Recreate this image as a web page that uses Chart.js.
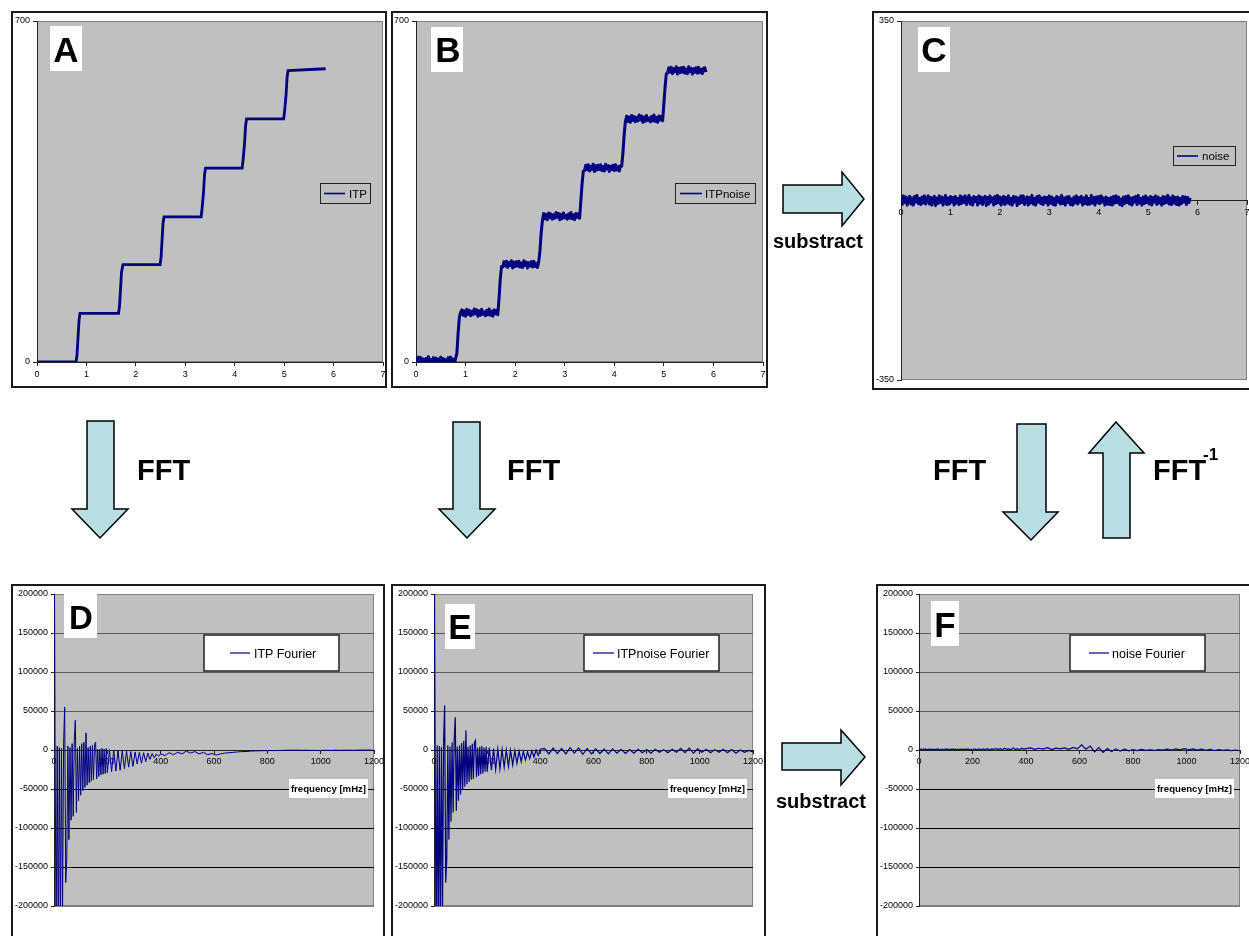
<!DOCTYPE html>
<html><head><meta charset="utf-8">
<script src="https://cdn.jsdelivr.net/npm/chart.js@4"></script>
<style>
html,body{margin:0;padding:0;background:#fff;width:1249px;height:936px;overflow:hidden;position:relative}
canvas{position:absolute}
svg{position:absolute;left:0;top:0;pointer-events:none}
</style></head><body>
<canvas id="cA" width="374" height="375" style="left:12px;top:12px"></canvas>
<canvas id="cB" width="375" height="375" style="left:392px;top:12px"></canvas>
<canvas id="cC" width="376" height="377" style="left:873px;top:12px"></canvas>
<canvas id="cD" width="372" height="351" style="left:12px;top:585px"></canvas>
<canvas id="cE" width="373" height="351" style="left:392px;top:585px"></canvas>
<canvas id="cF" width="372" height="351" style="left:877px;top:585px"></canvas>

<svg width="1249" height="936" viewBox="0 0 1249 936" font-family="Liberation Sans, Arial, sans-serif">
 <g fill="none" stroke="#1a1a1a" stroke-width="2">
  <rect x="12" y="12" width="374" height="375"/>
  <rect x="392" y="12" width="375" height="375"/>
  <rect x="873" y="12" width="380" height="377"/>
  <rect x="12" y="585" width="372" height="360"/>
  <rect x="392" y="585" width="373" height="360"/>
  <rect x="877" y="585" width="380" height="360"/>
 </g>
 <g fill="#fff">
  <rect x="50" y="26" width="32" height="45"/>
  <rect x="431" y="27" width="32" height="45"/>
  <rect x="918" y="27" width="32" height="45"/>
  <rect x="64" y="594" width="33" height="44"/>
  <rect x="445" y="604" width="30" height="45"/>
  <rect x="931" y="601" width="28" height="45"/>
 </g>
 <g font-weight="bold" font-size="35" text-anchor="middle" fill="#000">
  <text x="66" y="62">A</text>
  <text x="448" y="62">B</text>
  <text x="934" y="62">C</text>
  <text x="81" y="629" font-size="33">D</text>
  <text x="460" y="639">E</text>
  <text x="945" y="637">F</text>
 </g>
 <g fill="#C0C0C0" stroke="#222" stroke-width="1">
  <rect x="320.5" y="183.5" width="50" height="20"/>
  <rect x="675.5" y="183.5" width="80" height="20"/>
  <rect x="1173.5" y="146.5" width="62" height="19"/>
 </g>
 <g stroke="#000080" stroke-width="1.6">
  <line x1="324" y1="193.5" x2="345" y2="193.5"/>
  <line x1="680" y1="193.5" x2="702" y2="193.5"/>
  <line x1="1177" y1="156" x2="1198" y2="156"/>
 </g>
 <g font-size="11.5" fill="#000">
  <text x="349" y="197.5">ITP</text>
  <text x="705" y="197.5">ITPnoise</text>
  <text x="1202" y="160">noise</text>
 </g>
 <g fill="#fff" stroke="#222" stroke-width="1.5">
  <rect x="204" y="635" width="135" height="36"/>
  <rect x="584" y="635" width="135" height="36"/>
  <rect x="1070" y="635" width="135" height="36"/>
 </g>
 <g stroke="#000080" stroke-width="1.2">
  <line x1="230" y1="653" x2="250" y2="653"/>
  <line x1="593" y1="653" x2="614" y2="653"/>
  <line x1="1089" y1="653" x2="1109" y2="653"/>
 </g>
 <g font-size="12.5" fill="#000">
  <text x="254" y="657.5">ITP Fourier</text>
  <text x="617" y="657.5">ITPnoise Fourier</text>
  <text x="1112" y="657.5">noise Fourier</text>
 </g>
 <g fill="#fff">
  <rect x="289" y="779" width="79" height="19"/>
  <rect x="668" y="779" width="79" height="19"/>
  <rect x="1155" y="779" width="79" height="19"/>
 </g>
 <g font-size="9.6" font-weight="bold" text-anchor="middle" fill="#000">
  <text x="328.5" y="792">frequency [mHz]</text>
  <text x="707.5" y="792">frequency [mHz]</text>
  <text x="1194.5" y="792">frequency [mHz]</text>
 </g>
 <g fill="#B7DEE0" stroke="#000" stroke-width="1.5" stroke-linejoin="miter">
  <polygon points="87,421 114,421 114,509 128,509 100,538 72,509 87,509"/>
  <polygon points="453,422 480,422 480,509 495,509 467,538 439,509 453,509"/>
  <polygon points="1017,424 1046,424 1046,512 1058,512 1031,540 1003,512 1017,512"/>
  <polygon points="1116,422 1144,453 1130,453 1130,538 1103,538 1103,453 1089,453"/>
  <polygon points="783,185 842,185 842,172 864,199 842,226 842,213 783,213"/>
  <polygon points="782,743 841,743 841,730 865,757 841,785 841,770 782,770"/>
 </g>
 <g font-weight="bold" fill="#000">
  <text x="137" y="480" font-size="29">FFT</text>
  <text x="507" y="480" font-size="29">FFT</text>
  <text x="933" y="480" font-size="29">FFT</text>
  <text x="1153" y="480" font-size="29">FFT</text>
  <text x="1203" y="460" font-size="17">-1</text>
  <text x="773" y="248" font-size="20">substract</text>
  <text x="776" y="808" font-size="20">substract</text>
 </g>
</svg>

<script>
// ---------- Data ----------
// Panel A: ITP staircase (time in s, value)
const itpTime  = [0, 0.79, 0.81, 0.83, 0.85, 0.87, 1.65, 1.67, 1.69, 1.71, 1.74, 2.49, 2.51, 2.53, 2.55, 2.57, 3.32, 3.34, 3.37, 3.39, 3.41, 4.15, 4.17, 4.20, 4.22, 4.24, 4.99, 5.01, 5.04, 5.06, 5.08, 5.84];
const itpValue = [0, 0, 15, 50, 85, 100, 100, 115, 150, 185, 200, 200, 215, 250, 285, 298, 298, 315, 350, 385, 398, 398, 415, 450, 485, 499, 499, 515, 550, 585, 598, 602];

// Panels B and C: sample times (s)
const sampleTime = [
0,0.025,0.05,0.075,0.1,0.125,0.15,0.175,0.2,0.225,
0.25,0.275,0.3,0.325,0.35,0.375,0.4,0.425,0.45,0.475,
0.5,0.525,0.55,0.575,0.6,0.625,0.65,0.675,0.7,0.725,
0.75,0.775,0.8,0.825,0.85,0.875,0.9,0.925,0.95,0.975,
1,1.025,1.05,1.075,1.1,1.125,1.15,1.175,1.2,1.225,
1.25,1.275,1.3,1.325,1.35,1.375,1.4,1.425,1.45,1.475,
1.5,1.525,1.55,1.575,1.6,1.625,1.65,1.675,1.7,1.725,
1.75,1.775,1.8,1.825,1.85,1.875,1.9,1.925,1.95,1.975,
2,2.025,2.05,2.075,2.1,2.125,2.15,2.175,2.2,2.225,
2.25,2.275,2.3,2.325,2.35,2.375,2.4,2.425,2.45,2.475,
2.5,2.525,2.55,2.575,2.6,2.625,2.65,2.675,2.7,2.725,
2.75,2.775,2.8,2.825,2.85,2.875,2.9,2.925,2.95,2.975,
3,3.025,3.05,3.075,3.1,3.125,3.15,3.175,3.2,3.225,
3.25,3.275,3.3,3.325,3.35,3.375,3.4,3.425,3.45,3.475,
3.5,3.525,3.55,3.575,3.6,3.625,3.65,3.675,3.7,3.725,
3.75,3.775,3.8,3.825,3.85,3.875,3.9,3.925,3.95,3.975,
4,4.025,4.05,4.075,4.1,4.125,4.15,4.175,4.2,4.225,
4.25,4.275,4.3,4.325,4.35,4.375,4.4,4.425,4.45,4.475,
4.5,4.525,4.55,4.575,4.6,4.625,4.65,4.675,4.7,4.725,
4.75,4.775,4.8,4.825,4.85,4.875,4.9,4.925,4.95,4.975,
5,5.025,5.05,5.075,5.1,5.125,5.15,5.175,5.2,5.225,
5.25,5.275,5.3,5.325,5.35,5.375,5.4,5.425,5.45,5.475,
5.5,5.525,5.55,5.575,5.6,5.625,5.65,5.675,5.7,5.725,
5.75,5.775,5.8,5.825,5.85];

// Panel B: ITP with noise
const itpNoiseValue = [
8,-1,10,1,9,-3,6,-4,7,0,11,-2,5,-3,9,2,8,-4,6,-1,10,0,7,-3,5,-2,9,1,10,-1,6,-3,8,
18,60,92,102,
107,96,105,94,108,98,106,95,104,97,109,99,107,94,105,96,108,98,103,95,106,97,109,96,104,94,107,99,106,97,
130,170,196,
195,206,197,207,194,204,198,208,193,205,196,206,197,207,195,203,194,208,198,205,193,204,197,206,195,207,196,203,194,205,
228,265,290,
305,294,303,292,306,296,304,293,302,295,307,297,305,292,303,294,306,296,301,293,304,295,307,294,302,292,305,297,304,295,
330,365,392,
393,404,395,405,392,402,396,406,391,403,394,404,395,405,393,401,392,406,396,403,391,402,395,404,393,405,394,401,392,403,402,
430,468,494,
505,494,503,492,506,496,504,493,502,495,507,497,505,492,503,494,506,496,501,493,504,495,507,494,502,492,505,497,504,495,
530,565,592,
593,604,595,605,592,602,596,606,591,603,594,604,595,605,593,601,592,606,596,603,591,602,595,604,593,605,594,601,592,603,604,595];

// Panel C: noise (B minus A)
const noiseValue = [
6,-8,9,-4,7,-9,3,8,-7,5,
-9,8,-3,10,-6,4,-8,7,-5,9,
-7,2,9,-7,6,-9,4,8,-10,5,
-6,9,-4,7,-9,3,10,-8,5,-7,
8,-3,6,-9,8,-5,4,-8,9,-6,
7,-4,9,-8,3,10,-7,5,-9,8,
-2,6,-9,9,-5,7,-8,4,8,-10,
6,-7,9,-3,5,-9,8,-6,10,-4,
7,-9,3,8,-8,6,-5,9,-7,4,
-9,8,-3,7,-10,5,-6,9,-4,9,
-8,2,7,-9,6,-5,10,-7,4,-9,
8,-3,9,-6,5,-8,7,-4,6,-9,
9,-5,7,-8,4,-9,8,-3,6,-7,
10,-6,5,-9,7,-4,8,-8,3,-9,
7,-5,9,-7,6,-3,8,-9,5,-6,
9,-8,4,-7,10,-5,6,-9,7,-4,
8,-6,9,-3,5,-9,7,-7,4,-8,
6,-9,8,-5,9,-4,7,-8,3,-10,
7,-6,8,-4,9,-7,5,-9,6,-3,
8,-8,10,-5,4,-9,7,-6,9,-4,
5,-7,8,-9,6,-3,9,-8,7,-5,
4,-9,8,-6,7,-4,10,-7,5,-8,
9,-5,6,-8,7,-9,4,-6,8,-3,
7,-8,6,-4,5];

// Panels D, E, F: frequency in mHz
const freq = [
0,4,8,12,16,20,24,28,32,36,40,44,48,52,56,60,64,68,72,76,80,84,88,92,96,100,104,108,112,116,120,124,128,132,136,140,144,148,152,156,160,164,168,172,176,180,184,188,192,196,200,
208,216,224,232,240,248,256,264,272,280,288,296,304,312,320,328,336,344,352,360,368,376,384,392,400,
416,432,448,464,480,496,512,528,544,560,576,592,608,624,640,656,672,688,704,720,736,752,768,784,800,816,832,848,864,880,896,912,928,944,960,976,992,1008,1024,1040,1056,1072,1088,1104,1120,1136,1152,1168,1184,1200];

const itpFourier = [
400000,8000,-260000,5000,-250000,3000,-230000,2000,-210000,8000,
55000,-170000,-140000,5000,-115000,3000,-90000,8000,-85000,12000,
38000,-80000,2000,-65000,5000,-58000,8000,-52000,10000,-48000,
22000,-45000,3000,-42000,5000,-40000,6000,-38000,7000,10000,
-37000,1000,-34000,1000,-32000,2000,-31000,1000,-30000,2000,-29000,
500,-28000,0,-27000,-500,-26000,-1000,-24000,-1500,-22000,-2000,-21000,-2500,-18000,-3000,-17000,-3500,-15000,-4000,-12000,-4500,-10000,-5000,-8000,-5000,
-7000,-3500,-6000,-3000,-5000,-1500,-4000,-2000,-5000,-3000,
-6000,-4500,-6500,-5000,-4000,-3500,-3000,-2500,-2000,-2000,
-1500,-1200,-1000,-900,-800,-700,-700,-600,-400,-200,
-300,-200,-400,-300,-500,-400,-600,-500,-400,-500,
-300,-400,-300,-200,-300,-200,-100,-100,0,-500];

const itpNoiseFourier = [
400000,12000,-260000,6000,-250000,5000,-235000,4000,-210000,10000,
57000,-170000,-140000,6000,-115000,4000,-92000,10000,-80000,14000,
42000,-78000,4000,-65000,6000,-57000,9000,-50000,12000,-47000,
25000,-44000,4000,-41000,6000,-38000,8000,-37000,9000,12000,
-35000,3000,-33000,4000,-31000,5000,-30000,3000,-28000,4000,-28000,
3000,-26000,2000,-25000,1000,-24000,500,-22000,0,-21000,-500,-19000,-1000,-17000,-1500,-15000,-2000,-13000,-2500,-11000,-1000,-9000,0,-7000,1000,
2000,-5000,2500,-4500,2000,-5000,3000,-4000,2500,-5500,
2000,-5000,1500,-4500,1000,-5000,1500,-4000,1000,-4500,
500,-4000,1000,-3500,500,-4000,1000,-3000,500,-3500,
1000,-3000,2000,-3500,2500,-4000,1500,-3000,1000,-3500,
500,-3000,1000,-3500,500,-4000,0,-3000,-500,-2500];

const noiseFourier = [
1500,500,1200,300,1000,800,1300,200,900,600,
1400,400,1100,700,1200,300,1000,900,1300,100,
800,600,1200,400,1000,700,1500,300,900,500,
1100,800,1300,200,1000,600,1200,400,900,700,
1400,300,1100,500,1000,800,1300,200,900,600,1000,
1200,400,1500,300,1300,600,1800,200,1400,700,2000,500,1600,300,2200,800,1500,400,2500,600,1800,300,2200,900,1700,
2600,800,2200,1200,3000,600,2400,1400,2800,900,
3200,1500,6500,1000,5000,-2500,3000,-3000,2000,-2000,
1500,-1500,1000,-1000,500,-800,800,-500,200,-600,
600,-200,1000,0,1500,200,1800,300,1400,-200,
1200,-500,800,-600,500,-400,200,-800,0,-1000];

// Axis tick values
const timeTicks = {min: 0, max: 7, step: 1};
const freqTicks = {min: 0, max: 1200, step: 200};
const fourierTicks = {min: -200000, max: 200000, step: 50000};
const itpYTicks = [0, 700];
const noiseYTicks = [-350, 350];

// ---------- Chart setup ----------
const NAVY = '#000080';
Chart.defaults.font.family = '"Liberation Sans", Arial, sans-serif';
Chart.defaults.font.size = 9;
Chart.defaults.color = '#000';

Chart.register({
  id: 'plotBg',
  beforeDraw(chart) {
    const {ctx, chartArea: a} = chart;
    ctx.save();
    ctx.fillStyle = '#C0C0C0';
    ctx.fillRect(a.left, a.top, a.right - a.left, a.bottom - a.top);
    ctx.strokeStyle = '#808080';
    ctx.lineWidth = 1;
    ctx.strokeRect(a.left + 0.5, a.top + 0.5, a.right - a.left - 1, a.bottom - a.top - 1);
    ctx.restore();
  }
});

function fixW(w) { return s => { s.width = w; s.paddingTop = 0; s.paddingBottom = 0; }; }
function fixH(h) { return s => { s.height = h; s.paddingLeft = 0; s.paddingRight = 0; }; }
function pts(xs, ys) { const n = Math.min(xs.length, ys.length); const o = []; for (let i = 0; i < n; i++) o.push({x: xs[i], y: ys[i]}); return o; }
const str = v => String(v);

function makeChart(id, o) {
  const xScale = {
    type: 'linear', min: o.xt.min, max: o.xt.max,
    position: o.xCenter ? {y: 0} : 'bottom',
    ticks: {stepSize: o.xt.step, padding: 3, maxRotation: 0, autoSkip: false, callback: str, font: {size: 9}},
    grid: {drawOnChartArea: false, drawTicks: true, tickLength: o.xTick || 4, color: '#222'},
    border: {color: '#222', width: 1},
    afterFit: fixH(o.xH || 25)
  };
  const yScale = {
    type: 'linear', min: o.yt.min, max: o.yt.max,
    ticks: {stepSize: o.yt.step, padding: 3, autoSkip: false, callback: str, font: {size: 9}},
    grid: o.yGrid ? {
      drawOnChartArea: true, drawTicks: true, tickLength: 3, tickColor: '#222',
      color: c => {
        const v = c.tick ? c.tick.value : 0;
        if (Math.abs(v) >= 200000) return '#808080';
        return v > 0 ? '#5a5a5a' : '#000';
      }
    } : {drawOnChartArea: false, drawTicks: true, tickLength: 4, color: '#222'},
    border: {color: '#222', width: 1},
    afterFit: fixW(o.yW)
  };
  if (o.yList) yScale.afterBuildTicks = s => { s.ticks = o.yList.map(v => ({value: v})); };
  return new Chart(document.getElementById(id), {
    type: 'line',
    data: {datasets: [{label: o.label, data: o.data, borderColor: NAVY, borderWidth: o.lw, borderJoinStyle: o.join || 'miter', pointRadius: 0, tension: 0, fill: false}]},
    options: {
      responsive: false, animation: false, events: [],
      layout: {padding: o.pad},
      plugins: {legend: {display: false}, tooltip: {enabled: false}},
      scales: {x: xScale, y: yScale}
    }
  });
}

makeChart('cA', {label: 'ITP', data: pts(itpTime, itpValue), lw: 2.8, xt: timeTicks, yt: {min: 0, max: 700, step: 700}, yList: itpYTicks, yW: 25, pad: {left: 0, top: 9, right: 3, bottom: 0}});
makeChart('cB', {label: 'ITPnoise', data: pts(sampleTime, itpNoiseValue), lw: 3, join: 'round', xt: timeTicks, yt: {min: 0, max: 700, step: 700}, yList: itpYTicks, yW: 24, pad: {left: 0, top: 9, right: 4, bottom: 0}});
makeChart('cC', {label: 'noise', data: pts(sampleTime, noiseValue), lw: 3, join: 'round', xt: timeTicks, xCenter: true, yt: {min: -350, max: 350, step: 700}, yList: noiseYTicks, yW: 28, pad: {left: 0, top: 9, right: 2, bottom: 9}});
makeChart('cD', {label: 'ITP Fourier', data: pts(freq, itpFourier), lw: 1, xt: freqTicks, xCenter: true, xTick: 3, yGrid: true, yt: fourierTicks, yW: 42, pad: {left: 0, top: 9, right: 10, bottom: 30}});
makeChart('cE', {label: 'ITPnoise Fourier', data: pts(freq, itpNoiseFourier), lw: 1.2, xt: freqTicks, xCenter: true, xTick: 3, yGrid: true, yt: fourierTicks, yW: 42, pad: {left: 0, top: 9, right: 12, bottom: 30}});
makeChart('cF', {label: 'noise Fourier', data: pts(freq, noiseFourier), lw: 1.2, xt: freqTicks, xCenter: true, xTick: 3, yGrid: true, yt: fourierTicks, yW: 42, pad: {left: 0, top: 9, right: 9, bottom: 30}});
</script>
</body></html>
